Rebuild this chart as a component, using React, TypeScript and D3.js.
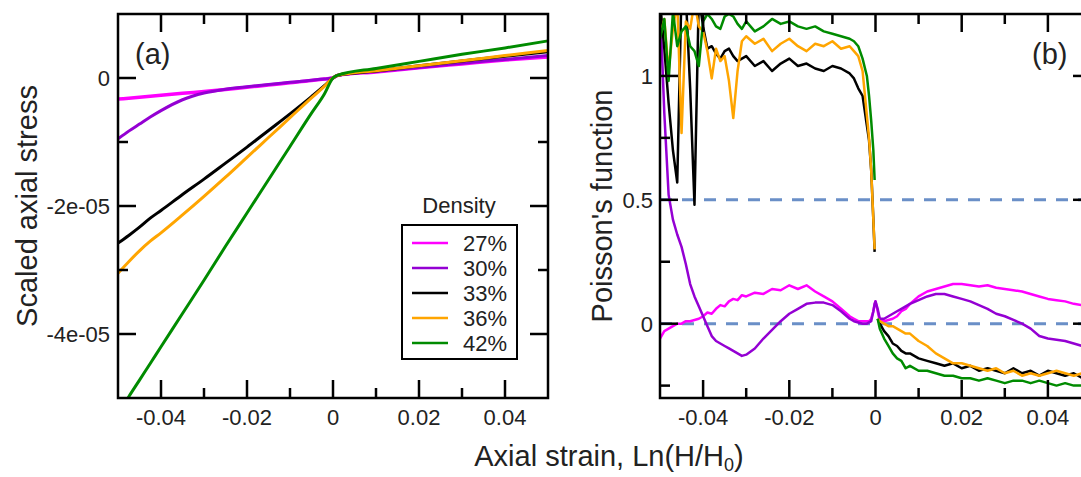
import React from 'react';
import * as d3 from 'd3';

// ---------- data ----------
const densities = ['27%', '30%', '33%', '36%', '42%'];
const seriesColors = ['#ff00ff', '#9400d3', '#000000', '#ffa500', '#008b00'];

// Panel (a): scaled axial stress (units of 1e-5) vs axial strain
const strainA = [-0.05, -0.0475, -0.045, -0.0425, -0.04, -0.035, -0.03, -0.025, -0.02, -0.015, -0.01, -0.005, -0.002, 0, 0.001, 0.01, 0.02, 0.03, 0.04, 0.05];
const stressA27 = [-0.33, -0.315, -0.30, -0.285, -0.27, -0.24, -0.21, -0.18, -0.145, -0.11, -0.075, -0.04, -0.015, 0, 0.04, 0.095, 0.16, 0.22, 0.28, 0.33];
const stressA30 = [-0.95, -0.83, -0.72, -0.61, -0.51, -0.34, -0.235, -0.175, -0.135, -0.10, -0.068, -0.035, -0.014, 0, 0.04, 0.10, 0.165, 0.23, 0.29, 0.35];
const stressA33 = [-2.58, -2.46, -2.33, -2.19, -2.07, -1.82, -1.58, -1.33, -1.08, -0.82, -0.56, -0.29, -0.12, 0, 0.04, 0.11, 0.19, 0.265, 0.34, 0.41];
const stressA36 = [-3.05, -2.87, -2.70, -2.55, -2.42, -2.14, -1.85, -1.55, -1.24, -0.93, -0.62, -0.31, -0.13, 0, 0.04, 0.115, 0.19, 0.27, 0.35, 0.43];
const stressA42 = [-5.25, -4.98, -4.72, -4.46, -4.20, -3.68, -3.16, -2.63, -2.11, -1.59, -1.07, -0.55, -0.25, 0, 0.04, 0.15, 0.26, 0.37, 0.47, 0.58];

// Panel (b): Poisson's function vs axial strain
const strainB = [
  -0.050, -0.049, -0.048, -0.047, -0.046, -0.045, -0.044, -0.043, -0.042, -0.041,
  -0.040, -0.039, -0.038, -0.037, -0.036, -0.035, -0.034, -0.033, -0.032, -0.031,
  -0.030, -0.028, -0.026, -0.024, -0.022, -0.020, -0.018, -0.016, -0.014, -0.012,
  -0.010, -0.008, -0.006, -0.005, -0.004, -0.003, -0.002, -0.0015, -0.001, -0.0005,
  -0.0002, 0, 0.0005, 0.001, 0.002, 0.003, 0.004, 0.005, 0.006, 0.007,
  0.008, 0.010, 0.012, 0.014, 0.016, 0.018, 0.020, 0.022, 0.024, 0.026,
  0.028, 0.030, 0.032, 0.034, 0.036, 0.038, 0.040, 0.042, 0.044, 0.046,
  0.048, 0.050,
];
const poissonB27 = [
  -0.06, -0.03, -0.02, -0.01, 0.0, 0.0, 0.01, 0.01, 0.015, 0.02,
  0.03, 0.045, 0.04, 0.06, 0.075, 0.07, 0.09, 0.10, 0.095, 0.115,
  0.11, 0.125, 0.12, 0.14, 0.135, 0.155, 0.14, 0.155, 0.13, 0.11,
  0.09, 0.06, 0.03, 0.02, 0.01, 0.01, 0.01, 0.01, 0.02, 0.05,
  0.08, 0.09, 0.05, 0.01, 0.01, 0.015, 0.02, 0.03, 0.05, 0.06,
  0.08, 0.11, 0.13, 0.14, 0.15, 0.16, 0.16, 0.155, 0.15, 0.155,
  0.145, 0.14, 0.135, 0.13, 0.12, 0.11, 0.10, 0.095, 0.09, 0.08,
  0.075, 0.07,
];
const poissonB30 = [
  1.30, 0.85, 0.52, 0.42, 0.36, 0.31, 0.24, 0.16, 0.11, 0.07,
  0.03, -0.01, -0.05, -0.07, -0.08, -0.09, -0.10, -0.11, -0.12, -0.13,
  -0.125, -0.10, -0.06, -0.025, 0.01, 0.04, 0.06, 0.08, 0.085, 0.085,
  0.075, 0.05, 0.02, 0.01, 0.005, 0.0, 0.0, 0.005, 0.01, 0.05,
  0.08, 0.09, 0.06, 0.02, 0.02, 0.03, 0.04, 0.05, 0.06, 0.07,
  0.08, 0.095, 0.11, 0.12, 0.12, 0.11, 0.10, 0.09, 0.075, 0.06,
  0.04, 0.03, 0.015, 0.0, -0.02, -0.05, -0.06, -0.065, -0.07, -0.08,
  -0.09, -0.10,
];
const poissonB33 = [
  1.30, 1.11, 0.89, 0.70, 0.57, 1.35, 1.32, 0.95, 0.48, 1.32,
  1.20, 1.11, 1.12, 1.09, 1.07, 1.10, 1.11, 1.08, 1.06, 1.07,
  1.08, 1.04, 1.06, 1.02, 1.05, 1.07, 1.04, 1.05, 1.03, 1.02,
  1.04, 1.03, 1.01, 0.99, 0.95, 0.92, 0.80, 0.74, 0.62, 0.42,
  0.29, null, 0.02, 0.0, -0.03, -0.05, -0.08, -0.09, -0.11, -0.12,
  -0.12, -0.14, -0.15, -0.16, -0.17, -0.16, -0.18, -0.17, -0.19, -0.18,
  -0.19, -0.20, -0.18, -0.20, -0.19, -0.21, -0.19, -0.20, -0.21, -0.20,
  -0.22, -0.21,
];
const poissonB36 = [
  1.16, 1.23, 1.02, 1.19, 1.30, 0.77, 1.22, 1.19, 1.30, 1.20,
  1.18, 1.10, 0.99, 1.11, 1.06, 1.08, 0.98, 0.83, 1.02, 1.14,
  1.16, 1.13, 1.15, 1.10, 1.13, 1.15, 1.12, 1.10, 1.13, 1.12,
  1.14, 1.11, 1.12, 1.10, 1.08, 1.02, 0.84, 0.75, 0.62, 0.42,
  0.30, null, 0.02, 0.01, 0.0, -0.01, -0.01, -0.02, -0.03, -0.04,
  -0.04, -0.07, -0.09, -0.12, -0.14, -0.16, -0.16, -0.17, -0.18, -0.19,
  -0.18, -0.20, -0.19, -0.21, -0.20, -0.21, -0.20, -0.19, -0.20, -0.21,
  -0.20, -0.21,
];
const poissonB42 = [
  1.15, 1.23, 0.98, 1.26, 1.12, 1.18, 1.20, 1.12, 1.10, 1.04,
  1.22, 1.25, 1.23, 1.20, 1.19, 1.24, 1.25, 1.24, 1.21, 1.19,
  1.22, 1.18, 1.20, 1.23, 1.21, 1.22, 1.20, 1.19, 1.20, 1.18,
  1.17, 1.16, 1.15, 1.14, 1.12, 1.07, 1.00, 0.92, 0.82, 0.70,
  0.58, null, 0.02, -0.02, -0.06, -0.09, -0.12, -0.14, -0.15, -0.18,
  -0.17, -0.19, -0.19, -0.20, -0.21, -0.21, -0.22, -0.22, -0.23, -0.22,
  -0.23, -0.24, -0.23, -0.23, -0.24, -0.23, -0.24, -0.25, -0.24, -0.25,
  -0.25, -0.26,
];

const xMajorTicks = [-0.04, -0.02, 0, 0.02, 0.04];
const xTickLabels = ['-0.04', '-0.02', '0', '0.02', '0.04'];
const xMinorTicks = [-0.03, -0.01, 0.01, 0.03];
const yMajorTicksA = [0, -2, -4];
const yTickLabelsA = ['0', '-2e-05', '-4e-05'];
const yMinorTicksA = [-1, -3];
const yMajorTicksB = [0, 0.5, 1];
const yTickLabelsB = ['0', '0.5', '1'];
const yMinorTicksB = [-0.25, 0.25, 0.75];
const refLinesB = [0, 0.5];

// ---------- layout ----------
const W = 1081;
const H = 477;
const FONT = '"Liberation Sans", Arial, Helvetica, sans-serif';
const PA = { left: 118, right: 548, top: 14, bottom: 398 };
const PB = { left: 660, right: 1091, top: 14, bottom: 398 };
const MAJOR = 18;
const MINOR = 10;

type Box = { left: number; right: number; top: number; bottom: number };

function Frame({ box, x, y, xMaj, xMin, yMaj, yMin, yLabels, labelEnd }: {
  box: Box; x: d3.ScaleLinear<number, number>; y: d3.ScaleLinear<number, number>;
  xMaj: number[]; xMin: number[]; yMaj: number[]; yMin: number[]; yLabels: string[]; labelEnd: number;
}) {
  const ticks: React.ReactElement[] = [];
  xMaj.forEach((v, i) => {
    const px = x(v);
    ticks.push(<line key={`xb${i}`} x1={px} x2={px} y1={box.bottom} y2={box.bottom - MAJOR} />);
    ticks.push(<line key={`xt${i}`} x1={px} x2={px} y1={box.top} y2={box.top + MAJOR} />);
  });
  xMin.forEach((v, i) => {
    const px = x(v);
    ticks.push(<line key={`xbm${i}`} x1={px} x2={px} y1={box.bottom} y2={box.bottom - MINOR} />);
    ticks.push(<line key={`xtm${i}`} x1={px} x2={px} y1={box.top} y2={box.top + MINOR} />);
  });
  yMaj.forEach((v, i) => {
    const py = y(v);
    ticks.push(<line key={`yl${i}`} x1={box.left} x2={box.left + MAJOR} y1={py} y2={py} />);
    ticks.push(<line key={`yr${i}`} x1={box.right} x2={box.right - MAJOR} y1={py} y2={py} />);
  });
  yMin.forEach((v, i) => {
    const py = y(v);
    ticks.push(<line key={`ylm${i}`} x1={box.left} x2={box.left + MINOR} y1={py} y2={py} />);
    ticks.push(<line key={`yrm${i}`} x1={box.right} x2={box.right - MINOR} y1={py} y2={py} />);
  });
  return (
    <g>
      <g stroke="#000" strokeWidth={2.5}>{ticks}</g>
      <rect x={box.left} y={box.top} width={box.right - box.left} height={box.bottom - box.top}
        fill="none" stroke="#000" strokeWidth={2.5} />
      <g fontFamily={FONT} fontSize={22} fill="#222">
        {xMaj.map((v, i) => (
          <text key={`xl${i}`} x={x(v)} y={425} textAnchor="middle">{xTickLabels[i]}</text>
        ))}
        {yMaj.map((v, i) => (
          <text key={`ylab${i}`} x={labelEnd} y={y(v) + 8} textAnchor="end">{yLabels[i]}</text>
        ))}
      </g>
    </g>
  );
}

export default function App() {
  const xa = d3.scaleLinear().domain([-0.05, 0.05]).range([PA.left, PA.right]);
  const ya = d3.scaleLinear().domain([-5, 1]).range([PA.bottom, PA.top]);
  const xb = d3.scaleLinear().domain([-0.05, 0.05]).range([PB.left, PB.right]);
  const yb = d3.scaleLinear().domain([-0.3, 1.25]).range([PB.bottom, PB.top]);

  const seriesA = [stressA27, stressA30, stressA33, stressA36, stressA42];
  const seriesB = [poissonB27, poissonB30, poissonB33, poissonB36, poissonB42];

  const lineA = d3.line<[number, number]>()
    .curve(d3.curveMonotoneX)
    .x((d) => xa(d[0])).y((d) => ya(d[1]));
  const lineB = d3.line<[number, number | null]>()
    .defined((d) => d[1] !== null)
    .x((d) => xb(d[0]))
    .y((d) => yb(d[1] as number));

  const legendX = 402, legendY = 225, legendW = 115, legendH = 134;

  return (
    <svg width={W} height={H} style={{ position: 'absolute', left: 0, top: 0, background: '#fff' }}
      xmlns="http://www.w3.org/2000/svg">
      <defs>
        <clipPath id="clipA"><rect x={PA.left} y={PA.top} width={PA.right - PA.left} height={PA.bottom - PA.top} /></clipPath>
        <clipPath id="clipB"><rect x={PB.left} y={PB.top} width={PB.right - PB.left} height={PB.bottom - PB.top} /></clipPath>
      </defs>
      <rect x={0} y={0} width={W} height={H} fill="#fff" />

      {/* Panel (a) */}
      <g clipPath="url(#clipA)" fill="none" strokeLinejoin="round" strokeLinecap="round">
        {seriesA.map((vals, si) => (
          <path key={si} d={lineA(strainA.map((s, i) => [s, vals[i]] as [number, number])) || ''}
            stroke={seriesColors[si]} strokeWidth={si === 0 ? 3.5 : 3} />
        ))}
      </g>
      <Frame box={PA} x={xa} y={ya} xMaj={xMajorTicks} xMin={xMinorTicks}
        yMaj={yMajorTicksA} yMin={yMinorTicksA} yLabels={yTickLabelsA} labelEnd={110} />
      <text x={135} y={64} fontFamily={FONT} fontSize={29} fill="#222">(a)</text>

      {/* Legend */}
      <text x={459} y={213} fontFamily={FONT} fontSize={22} fill="#222" textAnchor="middle">Density</text>
      <rect x={legendX} y={legendY} width={legendW} height={legendH} fill="#fff" stroke="#000" strokeWidth={2} />
      {densities.map((d, i) => {
        const cy = 243 + i * 25;
        return (
          <g key={d}>
            <line x1={412} x2={448} y1={cy} y2={cy} stroke={seriesColors[i]} strokeWidth={2.5} />
            <text x={463} y={cy + 8} fontFamily={FONT} fontSize={22} fill="#222">{d}</text>
          </g>
        );
      })}

      {/* Panel (b) */}
      <g clipPath="url(#clipB)">
        {refLinesB.map((v) => (
          <line key={v} x1={PB.left} x2={PB.right} y1={yb(v)} y2={yb(v)}
            stroke="#6a8fc7" strokeWidth={3} strokeDasharray="12 10" />
        ))}
        <g fill="none" strokeLinejoin="round">
          {seriesB.map((vals, si) => (
            <path key={si} d={lineB(strainB.map((s, i) => [s, vals[i]] as [number, number | null])) || ''}
              stroke={seriesColors[si]} strokeWidth={2.5} />
          ))}
        </g>
      </g>
      <Frame box={PB} x={xb} y={yb} xMaj={xMajorTicks} xMin={xMinorTicks}
        yMaj={yMajorTicksB} yMin={yMinorTicksB} yLabels={yTickLabelsB} labelEnd={653} />
      <text x={1032} y={64} fontFamily={FONT} fontSize={29} fill="#222">(b)</text>

      {/* Axis titles */}
      <text transform="translate(37,206) rotate(-90)" fontFamily={FONT} fontSize={29} fill="#222" textAnchor="middle">
        Scaled axial stress
      </text>
      <text transform="translate(612,206) rotate(-90)" fontFamily={FONT} fontSize={29} fill="#222" textAnchor="middle">
        Poisson's function
      </text>
      <text x={609} y={466} fontFamily={FONT} fontSize={29} fill="#222" textAnchor="middle">
        Axial strain, Ln(H/H<tspan fontSize={18} dy={5}>0</tspan><tspan dy={-5}>)</tspan>
      </text>
    </svg>
  );
}
